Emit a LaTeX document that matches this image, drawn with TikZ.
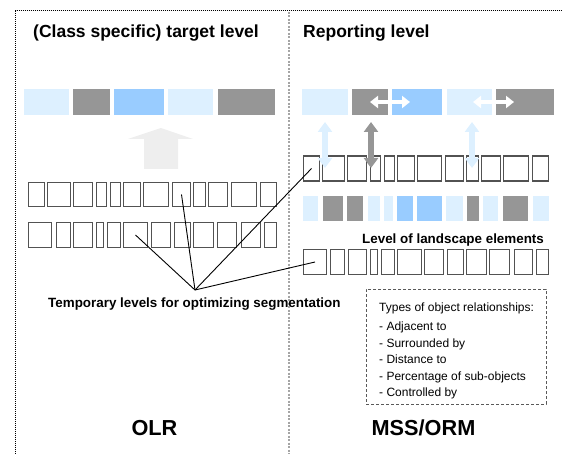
\documentclass[tikz,border=0pt]{standalone}
\usepackage{fontspec}
\setmainfont{Liberation Sans}
\usetikzlibrary{arrows.meta}

\definecolor{paleblue}{RGB}{221,240,255}
\definecolor{midblue}{RGB}{153,204,255}
\definecolor{blockgray}{RGB}{150,150,150}
\definecolor{arrowgray}{RGB}{238,238,238}
\definecolor{framegray}{RGB}{165,165,165}

\tikzset{
  seg/.style={draw=black!68, line width=1.4pt, inner sep=0pt},
  blk/.style={inner sep=0pt, minimum height=26pt},
  title/.style={inner sep=0pt, anchor=base west, font=\bfseries\fontsize{17.5}{20}\selectfont},
  note/.style={inner sep=0pt, anchor=base west, font=\bfseries\fontsize{13.4}{16}\selectfont},
  method/.style={inner sep=0pt, font=\bfseries\fontsize{21.7}{24}\selectfont},
  relbox/.style={draw=black!65, line width=0.8pt, dash pattern=on 3pt off 2pt},
  varrow/.style={line width=6pt, {Triangle[width=14pt,length=10pt]}-{Triangle[width=14pt,length=10pt]}},
  harrow/.style={white, line width=4.5pt, {Triangle[width=12pt,length=8pt]}-{Triangle[width=12pt,length=8pt]}},
  pointer/.style={black, line width=0.9pt}
}

\begin{document}
\begin{tikzpicture}[x=1pt, y=-1pt]
  \useasboundingbox (0,0) rectangle (562,454);

  % frame
  \draw[line width=1pt, dash pattern=on 1pt off 1pt] (15.5,454) -- (15.5,11) -- (562,11);
  \draw[framegray, line width=1.2pt, dash pattern=on 2pt off 1.5pt] (289,12) -- (289,454);

  % titles
  \node[title] (olrtitle) at (33,38) {(Class specific) target level};
  \node[title] (msstitle) at (303,38) {Reporting level};

  % target level blocks
  \foreach \xl/\xr/\c [count=\i] in {24/69/paleblue, 73/110/blockgray, 114/164/midblue, 168/213/paleblue, 218/275/blockgray}
    \node[blk, fill=\c, minimum width={(\xr-\xl)*1pt}] (lb\i) at ({(\xl+\xr)/2},102) {};

  % reporting level blocks
  \foreach \xl/\xr/\c [count=\i] in {302/348/paleblue, 352/388/blockgray, 392/442/midblue, 447/492/paleblue, 496/554/blockgray}
    \node[blk, fill=\c, minimum width={(\xr-\xl)*1pt}] (rb\i) at ({(\xl+\xr)/2},102) {};

  \draw[harrow] (370,102) -- (410,102);
  \draw[harrow] (473,102) -- (514,102);

  % aggregation arrow
  \fill[arrowgray] (144,169) -- (144,139) -- (128,139) -- (161,128) -- (193,139) -- (178,139) -- (178,169) -- cycle;

  % temporary segment rows
  \foreach \xl/\xr [count=\i] in {28/45, 47/71, 73/93, 96/107, 110/121, 123/141, 143/169, 172/191, 193/206, 208/228, 231/257, 260/277}
    \node[seg, minimum height=24pt, minimum width={(\xr-\xl-1.4)*1pt}] (ta\i) at ({(\xl+\xr)/2},194.5) {};
  \foreach \xl/\xr [count=\i] in {28/52, 56/71, 73/93, 96/104, 107/121, 123/148, 151/171, 174/191, 193/214, 217/237, 241/261, 264/277}
    \node[seg, minimum height=25pt, minimum width={(\xr-\xl-1.4)*1pt}] (tb\i) at ({(\xl+\xr)/2},235) {};

  % reporting segment rows
  \foreach \xl/\xr [count=\i] in {303/320, 322/345, 347/367, 370/381, 384/395, 397/415, 417/442, 445/464, 466/479, 481/501, 503/529, 532/549}
    \node[seg, minimum height=25pt, minimum width={(\xr-\xl-1.4)*1pt}] (ra\i) at ({(\xl+\xr)/2},168.5) {};
  \foreach \xl/\xr [count=\i] in {303/327, 330/345, 348/367, 370/378, 381/395, 397/422, 424/444, 447/464, 466/487, 489/510, 514/533, 536/549}
    \node[seg, minimum height=25pt, minimum width={(\xr-\xl-1.4)*1pt}] (rc\i) at ({(\xl+\xr)/2},262) {};

  % sub-object blocks
  \foreach \xl/\xr/\c [count=\i] in {303/318/paleblue, 323/343/blockgray, 347/363/blockgray, 368/380/paleblue, 384/393/paleblue, 397/413/midblue, 417/442/midblue, 446/463/paleblue, 467/479/blockgray, 483/498/paleblue, 503/528/blockgray, 533/549/paleblue}
    \node[blk, minimum height=25pt, fill=\c, minimum width={(\xr-\xl)*1pt}] (rs\i) at ({(\xl+\xr)/2},208.5) {};

  % vertical relations
  \draw[varrow, paleblue] (325,122) -- (325,168);
  \draw[varrow, blockgray] (371,122) -- (371,168);
  \draw[varrow, paleblue] (472,122) -- (472,168);

  \node[note] (landscape) at (362,243.5) {Level of landscape elements};

  % temporary levels
  \coordinate (tmp) at (195,290);
  \draw[pointer] (tmp) -- (tb6.center);
  \draw[pointer] (tmp) -- (ta8.center);
  \draw[pointer] (tmp) -- (ra1.center);
  \draw[pointer] (tmp) -- (rc1.center);
  \node[note] (templabel) at (48,307.5) {Temporary levels for optimizing segmentation};

  % relationship types
  \node[relbox, minimum width=180pt, minimum height=115pt] (rel) at (456,346.5) {};
  \node[inner sep=0pt, anchor=north west, align=left, font=\fontsize{12}{16.6}\selectfont] (reltext) at (379,302.7)
    {Types of object relationships:\\[2.4pt]
     - Adjacent to\\
     - Surrounded by\\
     - Distance to\\
     - Percentage of sub-objects\\
     - Controlled by};

  \node[method] (olr) at (154.5,428) {OLR};
  \node[method] (mss) at (423.5,428) {MSS/ORM};
\end{tikzpicture}
\end{document}
